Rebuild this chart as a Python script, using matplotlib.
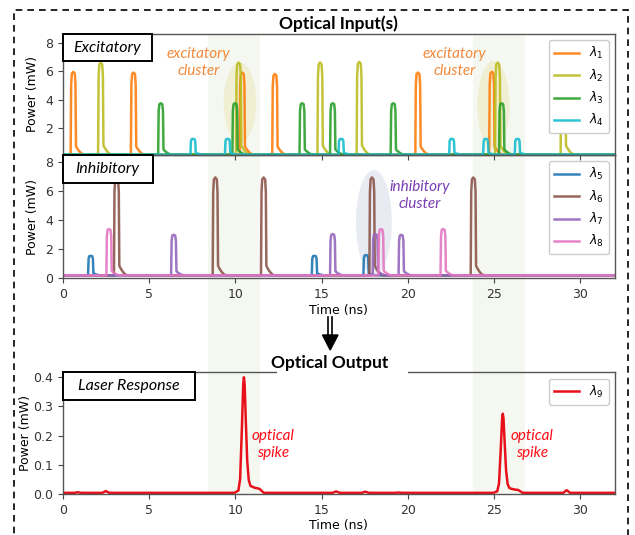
# Optical input pulse trains and the laser's spiking response

import matplotlib.pyplot as plt
import matplotlib.patches as mpatches
from matplotlib.lines import Line2D
import numpy as np

# ---- data (pulse centre times in ns, peak powers in mW)
lam1_t = [0.61, 4.10, 10.40, 12.29, 20.58, 24.86]
lam1_p = [5.95, 5.90, 5.90, 5.80, 5.90, 5.95]
lam2_t = [2.20, 10.19, 14.91, 17.18, 25.20, 29.00]
lam2_p = [6.60, 6.60, 6.60, 6.65, 6.60, 6.60]
lam3_t = [5.68, 9.98, 13.87, 15.64, 19.15, 25.43]
lam3_p = [3.75, 3.75, 3.75, 3.75, 3.75, 3.75]
lam4_t = [7.55, 9.55, 16.13, 22.54, 24.51, 26.34]
lam4_p = [1.25, 1.25, 1.25, 1.25, 1.25, 1.25]

lam5_t = [1.62, 14.58, 17.57]
lam5_p = [1.55, 1.55, 1.60]
lam6_t = [3.12, 8.84, 11.64, 17.92, 23.79]
lam6_p = [6.95, 6.95, 6.95, 6.95, 6.95]
lam7_t = [6.43, 15.64, 18.11, 19.61]
lam7_p = [3.00, 3.05, 3.05, 3.00]
lam8_t = [2.68, 18.44, 22.04]
lam8_p = [3.40, 3.40, 3.40]

spike_t = [10.50, 25.50]
spike_p = [0.400, 0.275]
ripple_t = [0.87, 2.50, 5.80, 15.84, 17.53, 19.46, 29.20]
ripple_p = [0.006, 0.010, 0.004, 0.009, 0.008, 0.005, 0.013]

cluster_spans = [(8.40, 11.45), (23.75, 26.80)]

# pulse outline (time offset from pulse centre, fraction of peak)
pulse_dt = [-0.20, -0.15, -0.12, -0.08, 0.00, 0.09, 0.13, 0.16, 0.21, 0.35, 0.50, 0.65]
pulse_fr = [0.00, 0.00, 0.85, 0.98, 1.00, 0.98, 0.85, 0.10, 0.08, 0.04, 0.01, 0.00]
spike_dt = [-0.55, -0.32, -0.22, -0.12, -0.04, 0.00, 0.04, 0.11, 0.19, 0.28, 0.38, 0.60, 0.90, 1.15]
spike_fr = [0.00, 0.02, 0.12, 0.55, 0.94, 1.00, 0.94, 0.62, 0.28, 0.11, 0.06, 0.045, 0.035, 0.00]
ripple_dt = [-0.20, 0.00, 0.20]
ripple_fr = [0.00, 1.00, 0.00]

T_END = 32


def trace(times, peaks, dt, fr, base):
    '''Joins the outline of every pulse into one polyline on a flat base'''
    xs, ys = [0.0], [base]
    for t, p in sorted(zip(times, peaks)):
        for d, f in zip(dt, fr):
            xs.append(t + d)
            ys.append(base + f * (p - base))
    xs.append(T_END)
    ys.append(base)
    return xs, ys


def merge(*parts):
    xs, ys = [], []
    for px, py in parts:
        xs += px
        ys += py
    order = np.argsort(xs, kind='stable')
    return np.array(xs)[order], np.array(ys)[order]


LABEL_FONT = ['Lato', 'DejaVu Sans']

fig = plt.figure(figsize=(6.35, 5.35), dpi=100)
W, H = 635.0, 535.0
left, width = 62.7 / W, (615 - 62.7) / W
ax1 = fig.add_axes([left, 1 - 155 / H, width, 121 / H])
ax2 = fig.add_axes([left, 1 - 278.3 / H, width, 123.3 / H])
ax3 = fig.add_axes([left, 1 - 494 / H, width, 121.7 / H])

# shaded cluster windows behind all three panels
for t0, t1 in cluster_spans:
    x0 = left + t0 / T_END * width
    x1 = left + t1 / T_END * width
    fig.patches.append(mpatches.Rectangle((x0, 1 - 494 / H), x1 - x0, (494 - 34) / H,
                                          transform=fig.transFigure, color='#f5f8f1',
                                          zorder=-5, lw=0))

for ax in (ax1, ax2, ax3):
    ax.set_facecolor('none')
    ax.set_xlim(0, T_END)
    ax.tick_params(labelsize=9, color='#444444', labelcolor='#333333', length=3.5)
    for s in ax.spines.values():
        s.set_color('#555555')
        s.set_linewidth(1.0)
    ax.set_ylabel('Power (mW)', fontsize=9)
ax3.yaxis.labelpad = 1

# excitatory inputs
exc = [(lam1_t, lam1_p, '#ff7f0e', r'$\lambda_1$'),
       (lam2_t, lam2_p, '#bcbd22', r'$\lambda_2$'),
       (lam3_t, lam3_p, '#2ca02c', r'$\lambda_3$'),
       (lam4_t, lam4_p, '#17becf', r'$\lambda_4$')]
for tt, pp, c, lab in exc:
    x, y = trace(tt, pp, pulse_dt, pulse_fr, 0.15)
    ax1.plot(x, y, color=c, lw=1.8, alpha=0.9, label=lab)
ax1.set_ylim(0.12, 8.6)
ax1.set_yticks([2, 4, 6, 8])
ax1.set_xticks([0, 5, 10, 15, 20, 25, 30])
ax1.tick_params(labelbottom=False)
ax1.legend(loc='upper right', fontsize=9, framealpha=1, edgecolor='#cccccc')

# inhibitory inputs
inh = [(lam5_t, lam5_p, '#1f77b4', r'$\lambda_5$'),
       (lam6_t, lam6_p, '#8c564b', r'$\lambda_6$'),
       (lam7_t, lam7_p, '#9467bd', r'$\lambda_7$'),
       (lam8_t, lam8_p, '#e377c2', r'$\lambda_8$')]
for tt, pp, c, lab in inh:
    x, y = trace(tt, pp, pulse_dt, pulse_fr, 0.2)
    ax2.plot(x, y, color=c, lw=1.8, alpha=0.9, label=lab)
ax2.set_ylim(0, 8.5)
ax2.set_yticks([0, 2, 4, 6, 8])
ax2.set_xticks([0, 5, 10, 15, 20, 25, 30])
ax2.set_xlabel('Time (ns)', fontsize=9, labelpad=2)
ax2.legend(loc='upper right', fontsize=9, framealpha=1, edgecolor='#cccccc')

# laser output
x, y = merge(trace(spike_t, spike_p, spike_dt, spike_fr, 0.004),
             trace(ripple_t, ripple_p, ripple_dt, ripple_fr, 0.004))
keep = np.r_[True, np.diff(x) > 0]
ax3.plot(x[keep], y[keep], color='#e8101a', lw=1.8, label=r'$\lambda_9$')
ax3.set_ylim(0, 0.417)
ax3.set_yticks([0.0, 0.1, 0.2, 0.3, 0.4])
ax3.set_xticks([0, 5, 10, 15, 20, 25, 30])
ax3.set_xlabel('Time (ns)', fontsize=9, labelpad=2)
ax3.legend(loc='upper right', fontsize=9, framealpha=1, edgecolor='#cccccc')

# cluster ellipses
ax1.add_patch(mpatches.Ellipse((10.27, 3.8), 1.89, 5.6, color='#efe9bf', alpha=0.6, zorder=0, lw=0))
ax1.add_patch(mpatches.Ellipse((24.96, 3.6), 1.87, 6.2, color='#efe9bf', alpha=0.6, zorder=0, lw=0))
ax2.add_patch(mpatches.Ellipse((18.03, 3.85), 2.08, 7.24, color='#e3e6ee', alpha=0.8, zorder=0, lw=0))

# panel name boxes
for ax, name, wpx in ((ax1, 'Excitatory', 89), (ax2, 'Inhibitory', 90), (ax3, 'Laser Response', 132)):
    hfrac = 27.5 / (ax.get_position().height * H)
    wfrac = wpx / (width * W)
    ax.add_patch(mpatches.Rectangle((0, 1 - hfrac), wfrac, hfrac, transform=ax.transAxes,
                                    facecolor='white', edgecolor='black', lw=1.4,
                                    zorder=5, clip_on=False))
    ax.text(wfrac / 2, 1 - hfrac / 2, name, transform=ax.transAxes, ha='center', va='center',
            fontsize=11.5, style='italic', family=LABEL_FONT, zorder=6)

# annotations
note = dict(style='italic', family=LABEL_FONT, fontsize=11, ha='center', va='center',
            linespacing=1.25)
ax1.text(7.88, 6.6, 'excitatory\ncluster', color='#f28a3c', **note)
ax1.text(22.7, 6.6, 'excitatory\ncluster', color='#f28a3c', **note)
ax2.text(20.7, 5.7, 'inhibitory\ncluster', color='#7a3db3', **note)
ax3.text(12.2, 0.17, 'optical\nspike', color='#ff0a14', **note)
ax3.text(27.2, 0.17, 'optical\nspike', color='#ff0a14', **note)

# headings (the output one sits on a white patch that hides the spine)
fig.text(338 / W, 1 - 29.5 / H, 'Optical Input(s)', ha='center', va='baseline',
         fontsize=12.5, weight='bold', family=LABEL_FONT)
fig.patches.append(mpatches.Rectangle((277 / W, 1 - 375 / H), 131 / W, 18 / H,
                                      transform=fig.transFigure, facecolor='white',
                                      lw=0, zorder=3))
fig.text(330 / W, 1 - 368.3 / H, 'Optical Output', ha='center', va='baseline',
         fontsize=12.5, weight='bold', family=LABEL_FONT, zorder=4)

# double arrow between input and output
for xp in (328.3, 331.7):
    fig.lines.append(Line2D([xp / W, xp / W], [1 - 317 / H, 1 - 337 / H],
                            transform=fig.transFigure, color='black', lw=1.2))
fig.patches.append(mpatches.Polygon([(322.5 / W, 1 - 335 / H), (338 / W, 1 - 335 / H),
                                     (330.2 / W, 1 - 350 / H)], closed=True,
                                    transform=fig.transFigure, color='black'))

# dashed frame round the whole figure
fig.patches.append(mpatches.Rectangle((14 / W, -0.1), (628 - 14) / W, 0.1 + 1 - 10 / H,
                                      transform=fig.transFigure, fill=False,
                                      edgecolor='black', lw=1.2, ls=(0, (4, 3))))

fig.savefig('out.png', dpi=100)
